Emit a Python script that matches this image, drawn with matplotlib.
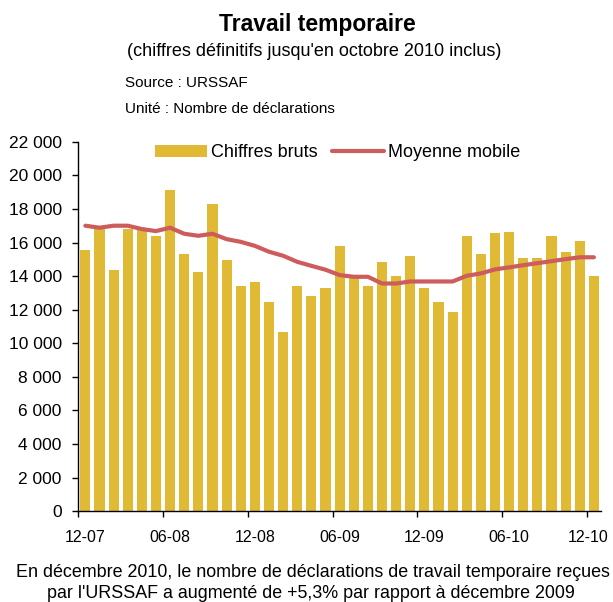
import matplotlib
matplotlib.use("Agg")
import matplotlib.pyplot as plt
import numpy as np

plt.rcParams['font.family'] = ['Liberation Sans', 'DejaVu Sans']

# mois de 12-07 a 12-10
mois = ['12-07', '01-08', '02-08', '03-08', '04-08', '05-08', '06-08', '07-08',
        '08-08', '09-08', '10-08', '11-08', '12-08', '01-09', '02-09', '03-09',
        '04-09', '05-09', '06-09', '07-09', '08-09', '09-09', '10-09', '11-09',
        '12-09', '01-10', '02-10', '03-10', '04-10', '05-10', '06-10', '07-10',
        '08-10', '09-10', '10-10', '11-10', '12-10']
chiffres_bruts = [15550, 16840, 14360, 16800, 16750, 16380, 19120, 15310,
                  14240, 18290, 14950, 13400, 13640, 12450, 10660, 13400,
                  12810, 13290, 15790, 13950, 13400, 14830, 14000, 15190,
                  13290, 12450, 11860, 16380, 15310, 16560, 16620, 15070,
                  15070, 16380, 15430, 16080, 14000]
moyenne_mobile = [17000, 16880, 17000, 17000, 16800, 16680, 16880, 16520,
                  16400, 16520, 16200, 16040, 15800, 15450, 15210, 14850,
                  14610, 14380, 14060, 13960, 13960, 13560, 13560, 13680,
                  13680, 13680, 13680, 14020, 14160, 14400, 14520, 14650,
                  14770, 14890, 15010, 15120, 15120]
labels_x = ['12-07', '06-08', '12-08', '06-09', '12-09', '06-10', '12-10']
y_ticks = [0, 2000, 4000, 6000, 8000, 10000, 12000, 14000, 16000, 18000, 20000, 22000]

jaune = '#E0BA35'
rouge = '#CD5C5C'

fig = plt.figure(figsize=(6.13, 6.02), dpi=100)
ax = fig.add_axes([0.1277, 0.1507, 0.8527, 0.6139])

x = np.arange(len(mois))
barres = ax.bar(x, chiffres_bruts, width=0.72, color=jaune, label='Chiffres bruts')
ligne, = ax.plot(x, moyenne_mobile, color=rouge, lw=3, label='Moyenne mobile',
                 solid_capstyle='round')

ax.set_xlim(-0.5, len(mois) - 0.5)
ax.set_ylim(0, 22000)

for s in ['top', 'right']:
    ax.spines[s].set_visible(False)
for s in ['left', 'bottom']:
    ax.spines[s].set_color('black')
    ax.spines[s].set_linewidth(1)

ax.set_yticks(y_ticks)
ax.set_yticklabels(['{:,}'.format(v).replace(',', ' ') for v in y_ticks])
ax.tick_params(axis='y', direction='out', length=4.3, width=1, pad=7.6,
               labelsize=12.5)

# traits entre les categories, libelles au centre
ax.set_xticks(np.arange(-0.5, len(mois), 6))
ax.set_xticklabels([])
ax.tick_params(axis='x', which='major', direction='out', length=4.3, width=1)
pos_labels = [mois.index(m) for m in labels_x]
pos_labels[-1] = pos_labels[-1] - 0.4  # le dernier libelle reste dans l'image
ax.set_xticks(pos_labels, labels_x, minor=True)
ax.tick_params(axis='x', which='minor', length=0, pad=13.5, labelsize=11.5)

fig.legend([barres, ligne], ['Chiffres bruts', 'Moyenne mobile'],
           loc='center', bbox_to_anchor=(0.5506, 0.7463), ncol=2,
           frameon=False, fontsize=13, handlelength=2.9, handletextpad=0.2,
           columnspacing=0.8, borderpad=0, borderaxespad=0)

fig.text(0.518, 0.949, 'Travail temporaire', ha='center', va='baseline',
         fontsize=16.5, fontweight='bold')
fig.text(0.512, 0.907, "(chiffres définitifs jusqu'en octobre 2010 inclus)",
         ha='center', va='baseline', fontsize=13)
fig.text(0.204, 0.855, 'Source : URSSAF', ha='left', va='baseline', fontsize=11)
fig.text(0.204, 0.8128, 'Unité : Nombre de déclarations', ha='left',
         va='baseline', fontsize=11)
fig.text(0.511, 0.041,
         'En décembre 2010, le nombre de déclarations de travail temporaire reçues',
         ha='center', va='baseline', fontsize=12.9)
fig.text(0.508, 0.0061,
         "par l'URSSAF a augmenté de +5,3% par rapport à décembre 2009",
         ha='center', va='baseline', fontsize=12.9)

fig.savefig('out.png', dpi=100)
